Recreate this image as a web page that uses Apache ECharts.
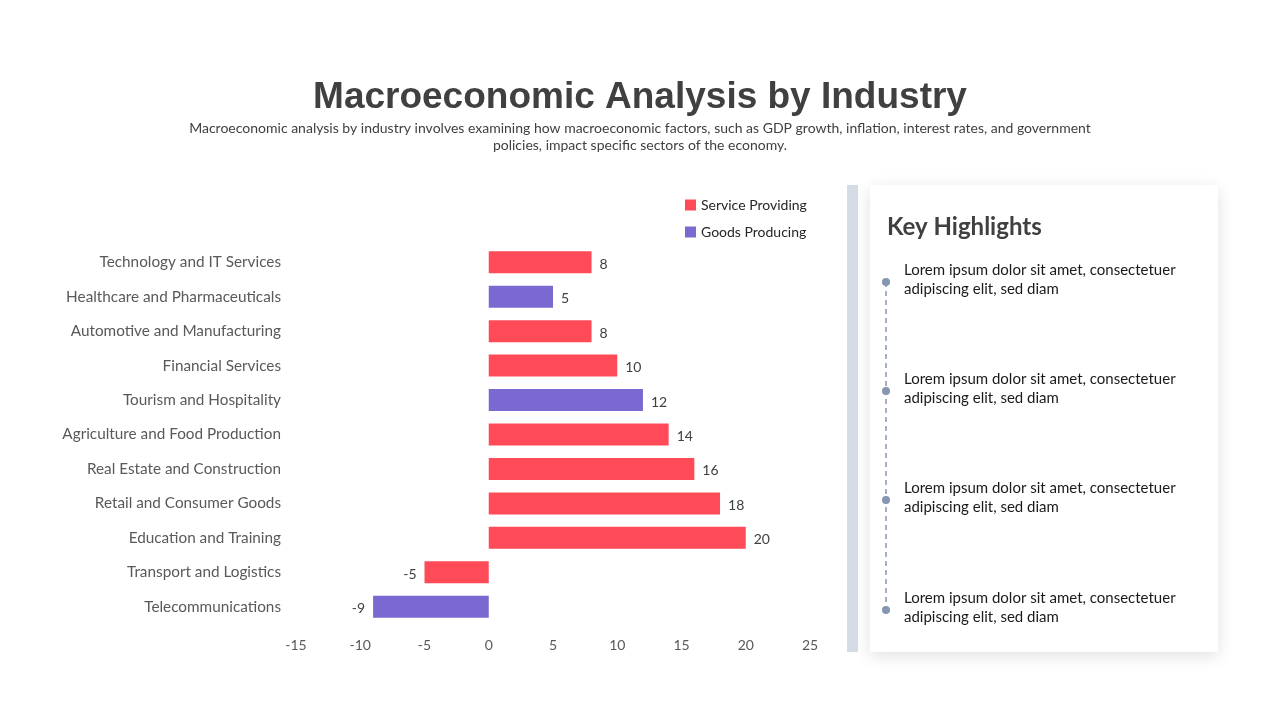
<!DOCTYPE html>
<html>
<head>
<meta charset="utf-8">
<script src="https://cdn.jsdelivr.net/npm/echarts@6/dist/echarts.min.js"></script>
<style>
html,body{margin:0;padding:0;background:#fff;}
#c{width:1280px;height:720px;}
</style>
</head>
<body>
<div id="c"></div>
<script>
const categories = ["Technology and IT Services","Healthcare and Pharmaceuticals","Automotive and Manufacturing","Financial Services","Tourism and Hospitality","Agriculture and Food Production","Real Estate and Construction","Retail and Consumer Goods","Education and Training","Transport and Logistics","Telecommunications"];
const serviceProviding = [8, null, 8, 10, null, 14, 16, 18, 20, -5, null];
const goodsProducing = [null, 5, null, null, 12, null, null, null, null, null, -9];
const highlights = ["Lorem ipsum dolor sit amet, consectetuer\nadipiscing elit, sed diam","Lorem ipsum dolor sit amet, consectetuer\nadipiscing elit, sed diam","Lorem ipsum dolor sit amet, consectetuer\nadipiscing elit, sed diam","Lorem ipsum dolor sit amet, consectetuer\nadipiscing elit, sed diam"];

const FONT = "Lato, 'Noto Sans', sans-serif";
const chart = echarts.init(document.getElementById('c'));

function lbl(){
  return {show:true, fontFamily:FONT, fontSize:14, color:'#404040', distance:8,
    position:'right', offset:[0,2],
    formatter:p=>p.value};
}
function mk(vals){
  return vals.map(v=> v===null? null : (v<0? {value:v,label:{position:'left'}} : v));
}

const graphics = [
  {type:'rect', shape:{x:847,y:185,width:11,height:467}, style:{fill:'#D5DCE5'}},
  {type:'rect', shape:{x:870,y:185,width:348,height:467}, style:{fill:'#fff', shadowBlur:16, shadowColor:'rgba(0,0,0,0.12)', shadowOffsetY:4}},
  {type:'text', left:887, top:215, style:{text:'Key Highlights', fontFamily:FONT, fontWeight:'bold', fontSize:24, fill:'#404040'}},
  {type:'line', shape:{x1:886,y1:282,x2:886,y2:610}, style:{stroke:'#8496B0', lineWidth:1.5, lineDash:[5,4]}}
];
const dotsY = [282, 391, 500, 610];
dotsY.forEach((y,i)=>{
  graphics.push({type:'circle', shape:{cx:886, cy:y, r:4}, style:{fill:'#8496B0'}});
  graphics.push({type:'text', left:904, top:y-21, style:{text:highlights[i], fontFamily:FONT, fontSize:15, lineHeight:19, fill:'#1a1a1a'}});
});

chart.setOption({
  backgroundColor:'#fff',
  animation:false,
  title:{
    text:'Macroeconomic Analysis by Industry',
    subtext:'Macroeconomic analysis by industry involves examining how macroeconomic factors, such as GDP growth, inflation, interest rates, and government\npolicies, impact specific sectors of the economy.',
    left:'center', top:74, itemGap:4,
    textStyle:{fontFamily:"'Liberation Sans', Arial, sans-serif", fontWeight:'bold', fontSize:37, color:'#404040'},
    subtextStyle:{fontFamily:FONT, fontSize:14, color:'#404040', lineHeight:17, align:'center'}
  },
  legend:{
    orient:'vertical', left:680, top:193, itemWidth:11, itemHeight:11, itemGap:13,
    icon:'rect',
    textStyle:{fontFamily:FONT, fontSize:14, color:'#262626'},
    data:['Service Providing','Goods Producing']
  },
  grid:{left:296, right:470, top:245, bottom:96, containLabel:false, outerBoundsMode:'none'},
  xAxis:{
    type:'value', min:-15, max:25, interval:5,
    axisLine:{show:false}, axisTick:{show:false}, splitLine:{show:false},
    axisLabel:{fontFamily:FONT, fontSize:14, color:'#595959', margin:14}
  },
  yAxis:{
    type:'category', data:categories, inverse:true,
    axisLine:{show:false}, axisTick:{show:false},
    axisLabel:{fontFamily:FONT, fontSize:15.3, color:'#595959', margin:15}
  },
  series:[
    {name:'Service Providing', type:'bar', stack:'a', barWidth:22, data:mk(serviceProviding), itemStyle:{color:'#FF4A57'}, label:lbl()},
    {name:'Goods Producing', type:'bar', stack:'a', barWidth:22, data:mk(goodsProducing), itemStyle:{color:'#7B68D1'}, label:lbl()}
  ],
  graphic:graphics
});
</script>
</body>
</html>
